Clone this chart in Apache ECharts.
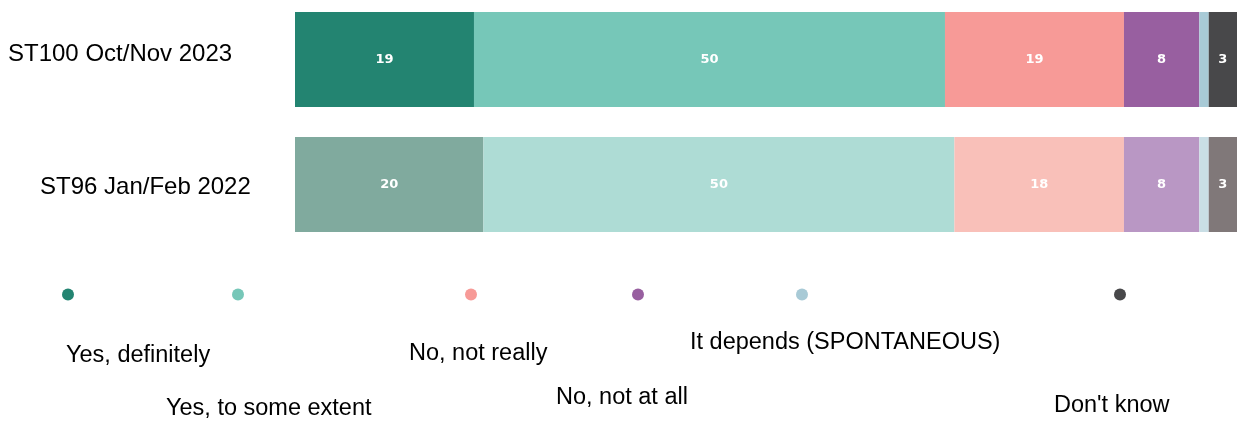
<!DOCTYPE html>
<html>
<head>
<meta charset="utf-8">
<script src="https://cdn.jsdelivr.net/npm/echarts@6/dist/echarts.min.js"></script>
<style>
html,body{margin:0;padding:0;background:#fff;}
#chart{width:1237px;height:421px;}
</style>
</head>
<body>
<div id="chart"></div>
<script>
// ---- data ----
var categories = ['ST100 Oct/Nov 2023', 'ST96 Jan/Feb 2022'];
var seriesNames = ['Yes, definitely', 'Yes, to some extent', 'No, not really', 'No, not at all', 'It depends (SPONTANEOUS)', "Don't know"];
var yesDefinitely = [19, 20];
var yesSomeExtent = [50, 50];
var noNotReally = [19, 18];
var noNotAtAll = [8, 8];
var itDepends = [1, 1];
var dontKnow = [3, 3];
var seriesValues = [yesDefinitely, yesSomeExtent, noNotReally, noNotAtAll, itDepends, dontKnow];

// ---- styles ----
var colorsCurrent = ['#238471', '#76c7b8', '#f79a97', '#985fa0', '#a8cad6', '#48484a'];
var colorsPrevious = ['#80aa9e', '#aedcd5', '#f9c0b9', '#b997c4', '#c9dee5', '#807879'];
var legendDotX = [68, 238, 471, 638, 802, 1120];
var legendDotY = 294.5;
var legendTextPos = [[66, 356], [166, 409], [409, 354], [556, 398], [690, 343], [1054, 406]];

var series = seriesNames.map(function (name, i) {
  return {
    name: name,
    type: 'bar',
    stack: 'total',
    barWidth: 95,
    data: seriesValues[i].map(function (v, j) {
      return { value: v, itemStyle: { color: j === 0 ? colorsCurrent[i] : colorsPrevious[i] } };
    }),
    itemStyle: { color: colorsCurrent[i] },
    label: {
      show: i !== 4,
      position: 'inside',
      color: '#ffffff',
      fontWeight: 'bold',
      fontSize: 13,
      fontFamily: 'DejaVu Sans'
    },
    emphasis: { disabled: true }
  };
});

var graphics = [];
seriesNames.forEach(function (name, i) {
  graphics.push({
    type: 'circle',
    shape: { cx: legendDotX[i], cy: legendDotY, r: 6 },
    style: { fill: colorsCurrent[i] }
  });
  graphics.push({
    type: 'text',
    x: legendTextPos[i][0],
    y: legendTextPos[i][1],
    style: {
      text: name,
      fill: '#000000',
      font: '23.5px "Liberation Sans", Arial, sans-serif',
      verticalAlign: 'middle',
      align: 'left'
    }
  });
});

var chart = echarts.init(document.getElementById('chart'), null, { renderer: 'canvas' });
chart.setOption({
  animation: false,
  backgroundColor: '#ffffff',
  grid: { left: 295, right: 0, top: 59.5, bottom: 236.5, containLabel: false },
  xAxis: {
    type: 'value', min: 0, max: 100, show: false
  },
  yAxis: {
    type: 'category',
    data: categories,
    inverse: true,
    boundaryGap: false,
    axisLine: { show: false },
    axisTick: { show: false },
    splitLine: { show: false },
    axisLabel: {
      margin: 287,
      align: 'left',
      formatter: function (value, index) {
        return index === 0 ? '{a|' + value + '}' : '{b|' + value + '}';
      },
      rich: {
        a: { fontSize: 24, fontFamily: '"Liberation Sans", Arial, sans-serif', color: '#000', padding: [0, 0, 10, 0] },
        b: { fontSize: 24, fontFamily: '"Liberation Sans", Arial, sans-serif', color: '#000', padding: [5, 0, 0, 32] }
      }
    }
  },
  legend: { show: false },
  series: series,
  graphic: graphics
});
</script>
</body>
</html>
